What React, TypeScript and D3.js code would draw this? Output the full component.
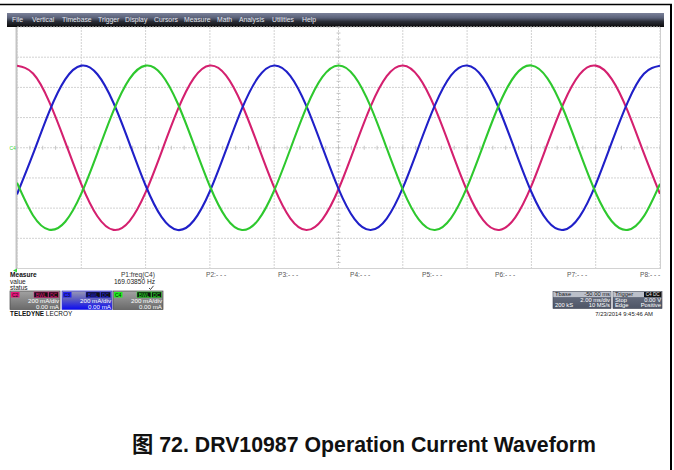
import React from "react";
import * as d3 from "d3";

// ---- data ----
const TIME_MS = [0, 0.5, 1, 1.5, 2, 2.5, 3, 3.5, 4, 4.5, 5, 5.5, 6, 6.5, 7, 7.5, 8, 8.5, 9, 9.5, 10, 10.5, 11, 11.5, 12, 12.5, 13, 13.5, 14, 14.5, 15, 15.5, 16, 16.5, 17, 17.5, 18, 18.5, 19, 19.5, 20];
const C2_MA = [543, 492, 306, 38, -241, -454, -544, -486, -296, -25, 252, 461, 545, 480, 285, 13, -263, -468, -545, -474, -275, 0, 274, 474, 545, 468, 264, -12, -285, -480, -545, -461, -253, 25, 295, 486, 544, 455, 241, -37, -306];
const C3_MA = [-309, -41, 238, 453, 544, 487, 298, 28, -250, -460, -545, -482, -288, -16, 261, 466, 545, 476, 277, 3, -272, -473, -545, -469, -266, 10, 282, 479, 545, 463, 255, -22, -293, -485, -544, -456, -244, 35, 304, 490, 543];
const C4_MA = [-232, -449, -543, -490, -304, -35, 244, 456, 544, 485, 293, 22, -255, -463, -545, -479, -283, -10, 266, 469, 545, 473, 272, -3, -277, -476, -545, -466, -261, 15, 288, 482, 545, 460, 250, -28, -298, -487, -544, -453, -239];

const MENU_ITEMS = ["File", "Vertical", "Timebase", "Trigger", "Display", "Cursors", "Measure", "Math", "Analysis", "Utilities", "Help"];
const MENU_X = [12, 32, 62, 98, 125, 154, 184, 217, 239, 272, 302];
const PARAM_LABELS = ["P2:- - -", "P3:- - -", "P4:- - -", "P5:- - -", "P6:- - -", "P7:- - -", "P8:- - -"];
const PARAM_X = [206, 278, 350, 422, 495, 567, 640];
const CHANNELS = ["C2", "C3", "C4"];
const CH_COLORS = ["#d4206f", "#2020c8", "#2ec82e"];
const CH_TAG = ["#e8147c", "#2222ee", "#22ee22"];
const CH_X = [10, 62, 113];
const CH_SCALE = ["200 mA/div", "200 mA/div", "200 mA/div"];
const CH_OFFSET = ["0.00 mA", "0.00 mA", "0.00 mA"];
const CAPTION = "图 72. DRV10987 Operation Current Waveform";

const FONT = "'Liberation Sans', Arial, 'Noto Sans CJK SC', sans-serif";

export default function App() {
  const x = d3.scaleLinear().domain([0, 20]).range([17, 660]);
  const y = d3.scaleLinear().domain([-800, 800]).range([268.5, 27]);
  const xt = x.ticks(10);
  const yt = d3.range(-800, 801, 200);
  const xMinor = d3.range(0, 20.001, 0.4);
  const yMinor = d3.range(-800, 800.1, 40);
  const line = d3
    .line<number>()
    .x((_, i) => x(TIME_MS[i]))
    .y((d) => y(d))
    .curve(d3.curveNatural);
  const series = [C2_MA, C3_MA, C4_MA];
  const cx = x(10);
  const cy = y(0);

  return (
    <svg width={674} height={470} style={{ position: "absolute", left: 0, top: 0, background: "#fff" }} fontFamily={FONT}>
      <defs>
        <linearGradient id="menu" x1="0" y1="0" x2="0" y2="1">
          <stop offset="0" stopColor="#7b8199" />
          <stop offset="0.35" stopColor="#5a6179" />
          <stop offset="0.6" stopColor="#2b2e38" />
          <stop offset="1" stopColor="#0b0b0b" />
        </linearGradient>
        <linearGradient id="chbox" x1="0" y1="0" x2="0" y2="1">
          <stop offset="0" stopColor="#a2a2a2" />
          <stop offset="1" stopColor="#6a6a6a" />
        </linearGradient>
        <linearGradient id="chbox3" x1="0" y1="0" x2="0" y2="1">
          <stop offset="0" stopColor="#9a9ab4" />
          <stop offset="0.45" stopColor="#5c5cc0" />
          <stop offset="1" stopColor="#0a0af2" />
        </linearGradient>
        <linearGradient id="tbox" x1="0" y1="0" x2="0" y2="1">
          <stop offset="0" stopColor="#6c7384" />
          <stop offset="1" stopColor="#4e5566" />
        </linearGradient>
        <clipPath id="plot">
          <rect x={17} y={27} width={643} height={241.5} />
        </clipPath>
      </defs>

      {/* page border */}
      <line x1={0} y1={4.5} x2={672} y2={4.5} stroke="#000" strokeWidth={1.6} />
      <line x1={671} y1={4} x2={671} y2={470} stroke="#000" strokeWidth={2} />

      {/* menu bar */}
      <rect x={7} y={13} width={657} height={14} fill="url(#menu)" />
      {MENU_ITEMS.map((m, i) => (
        <text key={m} x={MENU_X[i]} y={22.3} fontSize={6.8} fill="#e4e6ee">
          {m}
        </text>
      ))}

      {/* grid */}
      <g>
        {xt.map((t) => (
          <line key={"gx" + t} x1={x(t)} x2={x(t)} y1={27} y2={268.5} stroke="#d2d2d2" strokeWidth={1} strokeDasharray="2 1" />
        ))}
        {yt.map((v) => (
          <line key={"gy" + v} x1={17} x2={660} y1={y(v)} y2={y(v)} stroke="#d2d2d2" strokeWidth={1} strokeDasharray="2 1" />
        ))}
        {xMinor.map((t) => (
          <line key={"mx" + t} x1={x(t)} x2={x(t)} y1={cy - 2} y2={cy + 2} stroke="#b8b8b8" strokeWidth={0.8} />
        ))}
        {yMinor.map((v) => (
          <line key={"my" + v} x1={cx - 2} x2={cx + 2} y1={y(v)} y2={y(v)} stroke="#b8b8b8" strokeWidth={0.8} />
        ))}
        <line x1={16.5} x2={16.5} y1={27} y2={269} stroke="#c4c4c4" strokeWidth={2} />
        <line x1={660.5} x2={660.5} y1={27} y2={269} stroke="#cfcfcf" strokeWidth={1} />
        <line x1={17} x2={660} y1={268.5} y2={268.5} stroke="#d2d2d2" strokeWidth={1} />
      </g>

      {/* traces */}
      <g clipPath="url(#plot)">
        {series.map((s, i) => (
          <path key={CHANNELS[i]} d={line(s) || ""} fill="none" stroke={CH_COLORS[i]} strokeWidth={2.1} strokeLinejoin="round" />
        ))}
      </g>

      {/* ground marker */}
      <text x={9.5} y={150} fontSize={5} fill="#3ad63a">C4</text>
      <path d="M13,270.5 L17,268.5 L17,272.5 Z" fill="#3ad63a" />

      {/* measurement rows */}
      <text x={10} y={277} fontSize={6.6} fontWeight="bold" fill="#111">Measure</text>
      <text x={10} y={283.5} fontSize={6.6} fill="#222">value</text>
      <text x={10} y={290} fontSize={6.6} fill="#222">status</text>
      <text x={155} y={277} fontSize={6.6} fill="#333" textAnchor="end">P1:freq(C4)</text>
      <text x={155} y={283.5} fontSize={6.6} fill="#222" textAnchor="end">169.03850 Hz</text>
      <path d="M149,288 L150.5,289.5 L153.5,285.8" fill="none" stroke="#333" strokeWidth={0.9} />
      {PARAM_LABELS.map((p, i) => (
        <text key={p + i} x={PARAM_X[i]} y={277} fontSize={6.6} fill="#555">
          {p}
        </text>
      ))}

      {/* channel boxes */}
      {CHANNELS.map((c, i) => {
        const x0 = CH_X[i];
        return (
          <g key={"box" + c}>
            <rect x={x0} y={291} width={50} height={18.5} fill={i === 1 ? "url(#chbox3)" : "url(#chbox)"} stroke={i === 1 ? "#3a3ad8" : "#4a4a4a"} strokeWidth={0.7} />
            <rect x={x0 + 1} y={292} width={8.5} height={5.5} fill={CH_TAG[i]} />
            <text x={x0 + 2} y={296.6} fontSize={5} fill="#111">{c}</text>
            <rect x={x0 + 24} y={292} width={14} height={5.5} fill="#111" stroke={CH_TAG[i]} strokeWidth={0.5} />
            <text x={x0 + 31} y={296.6} fontSize={4.8} fill={CH_TAG[i]} textAnchor="middle">BWL</text>
            <rect x={x0 + 38.5} y={292} width={10} height={5.5} fill="#111" stroke={CH_TAG[i]} strokeWidth={0.5} />
            <text x={x0 + 43.5} y={296.6} fontSize={4.8} fill={CH_TAG[i]} textAnchor="middle">DC</text>
            <text x={x0 + 49} y={302.6} fontSize={6.2} fill="#fff" textAnchor="end">{CH_SCALE[i]}</text>
            <text x={x0 + 49} y={308.6} fontSize={6.2} fill="#fff" textAnchor="end">{CH_OFFSET[i]}</text>
          </g>
        );
      })}
      <text x={10} y={315.5} fontSize={6.4} fill="#111">
        <tspan fontWeight="bold">TELEDYNE</tspan>
        <tspan> LECROY</tspan>
      </text>

      {/* timebase / trigger */}
      <rect x={553} y={291.5} width={58} height={17} fill="url(#tbox)" stroke="#3c4150" strokeWidth={0.6} />
      <rect x={553.3} y={291.8} width={57.4} height={5.3} fill="#bcc0ca" />
      <text x={555} y={296.4} fontSize={5.8} fill="#1a1a1a">Tbase</text>
      <text x={610} y={296.4} fontSize={5.8} fill="#1a1a1a" textAnchor="end">-50.00 ms</text>
      <text x={610} y={302} fontSize={5.8} fill="#fff" textAnchor="end">2.00 ms/div</text>
      <text x={555} y={307.4} fontSize={5.8} fill="#fff">200 kS</text>
      <text x={610} y={307.4} fontSize={5.8} fill="#fff" textAnchor="end">10 MS/s</text>

      <rect x={613} y={291.5} width={49} height={17} fill="url(#tbox)" stroke="#3c4150" strokeWidth={0.6} />
      <rect x={613.3} y={291.8} width={48.4} height={5.3} fill="#bcc0ca" />
      <text x={615} y={296.4} fontSize={5.8} fill="#1a1a1a">Trigger</text>
      <rect x={644} y={292} width={17.5} height={5} fill="#111" />
      <text x={652.7} y={296.1} fontSize={4.6} fill="#e8e8e8" textAnchor="middle">C4 DC</text>
      <text x={615} y={302} fontSize={5.8} fill="#fff">Stop</text>
      <text x={661} y={302} fontSize={5.8} fill="#fff" textAnchor="end">0.00 V</text>
      <text x={615} y={307.4} fontSize={5.8} fill="#fff">Edge</text>
      <text x={661} y={307.4} fontSize={5.8} fill="#fff" textAnchor="end">Positive</text>
      <text x={653} y={316} fontSize={5.9} fill="#222" textAnchor="end">7/23/2014 9:45:46 AM</text>

      {/* caption */}
      <text x={364} y={452} fontSize={21.3} fontWeight="bold" fill="#111" textAnchor="middle">
        {CAPTION}
      </text>
    </svg>
  );
}
